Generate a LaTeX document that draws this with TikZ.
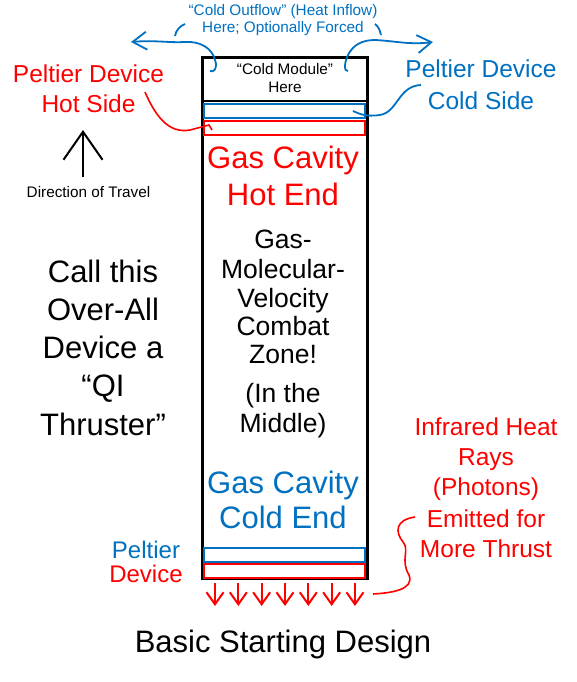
\documentclass[tikz,border=0pt]{standalone}
\usepackage{fontspec}
\setmainfont{Liberation Sans}
\usetikzlibrary{arrows.meta}
\definecolor{pblue}{RGB}{0,112,192}
\definecolor{pred}{RGB}{255,0,0}
\begin{document}
\begin{tikzpicture}[x=1pt,y=-1pt,
  lbl/.style={inner sep=0pt, anchor=base},
  big/.style={lbl, font=\fontsize{31}{35}\selectfont},
  mid/.style={lbl, font=\fontsize{26.5}{30}\selectfont},
  side/.style={lbl, font=\fontsize{24.5}{28}\selectfont},
  small/.style={lbl, font=\fontsize{15.3}{18}\selectfont},
  frame/.style={draw=black, line width=2.8pt},
  bluerect/.style={draw=pblue, line width=2pt},
  redrect/.style={draw=pred, line width=2pt},
  bluecurve/.style={draw=pblue, line width=1.8pt},
  redcurve/.style={draw=pred, line width=1.6pt},
  ray/.style={draw=pred, line width=2pt, -{Straight Barb[length=12pt,width=17pt]}},
]
\useasboundingbox (0,0) rectangle (576,682);

% main device box
\node (box) [frame, inner sep=0pt, minimum width=165pt, minimum height=521pt, anchor=north west] at (201,56) {};
\draw[frame] (201,101) -- (366,101);

% Peltier layers
\node (bluetop) [bluerect, inner sep=0pt, minimum width=161pt, minimum height=14pt, anchor=north west] at (203,103.5) {};
\node (redtop) [redrect, inner sep=0pt, minimum width=161pt, minimum height=14pt, anchor=north west] at (203,120) {};
\node (bluebot) [bluerect, inner sep=0pt, minimum width=161pt, minimum height=13.5pt, anchor=north west] at (203,547) {};
\node (redbot) [redrect, inner sep=0pt, minimum width=161pt, minimum height=13.5pt, anchor=north west] at (203,563) {};

% top texts
\node (out1) [small, text=pblue] at (283,15.5) {“Cold Outflow” (Heat Inflow)};
\node (out2) [small, text=pblue] at (283,33) {Here; Optionally Forced};
\node (cm1) [small] at (285,75) {“Cold Module”};
\node (cm2) [small] at (285,93) {Here};

% blue outflow arrows
\coordinate (ltip) at (131,42);
\coordinate (rtip) at (433,42);
\coordinate (lhook) at (210,71);
\coordinate (rhook) at (348,71);
\draw[bluecurve, -{Straight Barb[length=14pt,width=18pt]}] (lhook) .. controls (214,73) and (218,68) .. (215,60) .. controls (212,48) and (200,41) .. (185,42) .. controls (170,43) and (155,40) .. (ltip);
\draw[bluecurve, -{Straight Barb[length=14pt,width=18pt]}] (rhook) .. controls (344,72) and (344,63) .. (348,55) .. controls (353,45) and (362,40) .. (375,40) .. controls (395,41) and (410,45) .. (rtip);
\coordinate (lp1) at (175,36);
\coordinate (lp2) at (185,24);
\coordinate (rp1) at (375,24);
\coordinate (rp2) at (381,35);
\draw[bluecurve] (lp1) .. controls (176,30) and (180,26) .. (lp2);
\draw[bluecurve] (rp1) .. controls (379,27) and (380,31) .. (rp2);

% Peltier hot side label
\node (hs1) [side, text=pred] at (88.5,83) {Peltier Device};
\node (hs2) [side, text=pred] at (88.5,113) {Hot Side};
\coordinate (hsa) at (145,92);
\coordinate (hsb) at (212,130);
\draw[redcurve] (hsa) .. controls (155,115) and (168,134) .. (190,130) -- (209,125) -- (hsb);

% Peltier cold side label
\node (cs1) [side, text=pblue] at (481,78) {Peltier Device};
\node (cs2) [side, text=pblue] at (481,110) {Cold Side};
\coordinate (csa) at (353,111);
\coordinate (csb) at (421,85);
\draw[bluecurve] (csa) .. controls (360,114) and (365,117) .. (380,115) .. controls (398,112) and (398,86) .. (csb);

% direction of travel
\coordinate (dirbot) at (83,177);
\coordinate (dirtop) at (83,130);
\draw[line width=2pt, -{Straight Barb[length=28pt,width=39pt]}] (dirbot) -- (dirtop);
\node (dir) [small] at (88.5,197) {Direction of Travel};

% cavity texts
\node (h1) [big, text=pred] at (283,168) {Gas Cavity};
\node (h2) [big, text=pred] at (283,205) {Hot End};
\node (m1) [mid] at (283,248) {Gas-};
\node (m2) [mid] at (283,278) {Molecular-};
\node (m3) [mid] at (283,307) {Velocity};
\node (m4) [mid] at (283,335) {Combat};
\node (m5) [mid] at (283,363) {Zone!};
\node (m6) [mid] at (283,402) {(In the};
\node (m7) [mid] at (283,432) {Middle)};
\node (c1) [big, text=pblue] at (283,493) {Gas Cavity};
\node (c2) [big, text=pblue] at (283,528) {Cold End};

% left label
\node (q1) [big] at (103,282) {Call this};
\node (q2) [big] at (103,320) {Over-All};
\node (q3) [big] at (103,358) {Device a};
\node (q4) [big] at (103,396) {“QI};
\node (q5) [big] at (103,435) {Thruster”};

% infrared label
\node (ir1) [side, text=pred] at (486,435) {Infrared Heat};
\node (ir2) [side, text=pred] at (486,465) {Rays};
\node (ir3) [side, text=pred] at (486,495) {(Photons)};
\node (ir4) [side, text=pred] at (486,527) {Emitted for};
\node (ir5) [side, text=pred] at (486,557) {More Thrust};
\coordinate (ira) at (415,517);
\coordinate (irb) at (373,594);
\draw[redcurve] (ira) .. controls (395,520) and (395,532) .. (403,542) .. controls (410,550) and (400,560) .. (409,575) .. controls (415,590) and (390,593) .. (irb);

% bottom Peltier label
\node (bp1) [lbl, font=\fontsize{24}{26}\selectfont, text=pblue] at (146,558) {Peltier};
\node (bp2) [lbl, font=\fontsize{24}{26}\selectfont, text=pred] at (146,582) {Device};

% infrared rays
\foreach \i in {0,...,6} {
  \coordinate (rs\i) at (215+23.33*\i,583);
  \coordinate (re\i) at (215+23.33*\i,606);
  \draw[ray] (rs\i) -- (re\i);
}

% title
\node (title) [big] at (283,652) {Basic Starting Design};
\end{tikzpicture}
\end{document}
